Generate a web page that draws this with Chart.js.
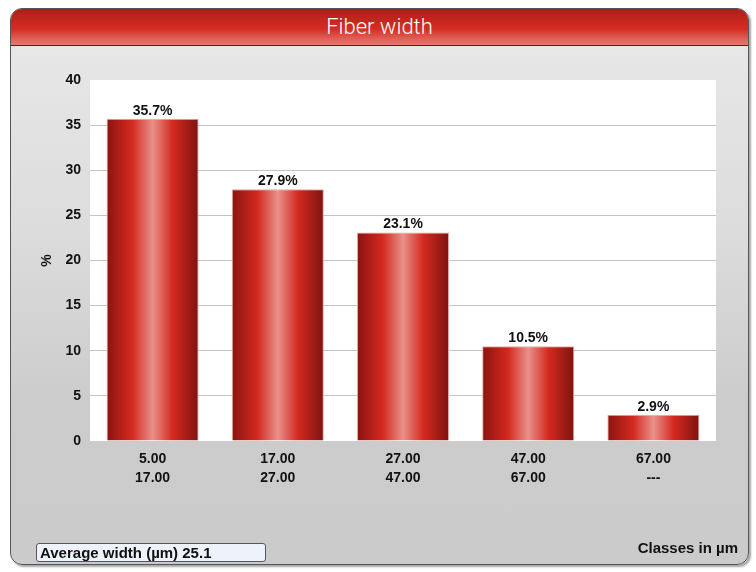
<!DOCTYPE html>
<html>
<head>
<meta charset="utf-8">
<script src="https://cdn.jsdelivr.net/npm/chart.js@4.4.1/dist/chart.umd.min.js"></script>
<style>
  html, body { margin: 0; padding: 0; background: #ffffff; }
  body { width: 756px; height: 572px; position: relative; overflow: hidden;
         font-family: 'Liberation Sans', Arial, sans-serif; }
  .panel {
    position: absolute; left: 10px; top: 8px; width: 737px; height: 555px;
    border-radius: 12px; border: 1px solid #555;
    background: linear-gradient(#e9e9e9 0%, #dcdcdc 40%, #cccccc 70%, #cbcbcb 100%);
    box-shadow: 2px 2px 2px rgba(0,0,0,0.35);
    overflow: hidden;
  }
  .header {
    position: absolute; left: 0; top: 0; right: 0; height: 36px;
    background: linear-gradient(#a8201a 0%, #c8271f 35%, #d42c22 55%, #e0645a 85%, #e27a70 100%);
    border-bottom: 1px solid #6a1a16;
    color: #fff; text-align: center; font-size: 22px; line-height: 36px;
    font-family: Roboto, 'Liberation Sans', sans-serif; font-weight: 300;
  }
  #wrap { position: absolute; left: 0; top: 0; width: 756px; height: 572px; }
  .avg {
    position: absolute; left: 36px; top: 543px; width: 230px; height: 19px;
    border: 1px solid #556; border-radius: 3px; background: #eef3fb;
    font-weight: bold; font-size: 15px; line-height: 18px; padding-left: 3px;
    box-sizing: border-box; color: #111;
  }
  .unit {
    position: absolute; right: 18px; top: 539px;
    font-weight: bold; font-size: 15px; color: #111;
  }
</style>
</head>
<body>
<div class="panel"><div class="header">Fiber width</div></div>
<div id="wrap"><canvas id="chart" width="756" height="572"></canvas></div>
<div class="avg">Average width (µm) 25.1</div>
<div class="unit">Classes in µm</div>
<script>
// class bounds (µm) and share of fibers (%)
const classFrom = ['5.00', '17.00', '27.00', '47.00', '67.00'];
const classTo   = ['17.00', '27.00', '47.00', '67.00', '---'];
const percent   = [35.7, 27.9, 23.1, 10.5, 2.9];
const yTicks    = [0, 5, 10, 15, 20, 25, 30, 35, 40];

const BAR_PCT = 0.735;
const FONT = { family: "'Liberation Sans', Arial, sans-serif", size: 14, weight: 'bold' };

// fondo blanco solo en el área de trazado
const plotBg = {
  id: 'plotBg',
  beforeDraw(chart) {
    const { ctx, chartArea: a } = chart;
    ctx.save();
    ctx.fillStyle = '#ffffff';
    ctx.fillRect(a.left, a.top, a.right - a.left, a.bottom - a.top);
    ctx.restore();
  }
};

// etiquetas de porcentaje sobre cada barra
const barLabels = {
  id: 'barLabels',
  afterDatasetsDraw(chart) {
    const { ctx } = chart;
    const meta = chart.getDatasetMeta(0);
    ctx.save();
    ctx.font = `bold ${FONT.size}px ${FONT.family}`;
    ctx.fillStyle = '#111';
    ctx.textAlign = 'center';
    ctx.textBaseline = 'bottom';
    meta.data.forEach((bar, i) => {
      ctx.fillText(percent[i].toFixed(1) + '%', bar.x, bar.y - 1);
    });
    ctx.restore();
  }
};

// degradado horizontal tipo cilindro
function barGradient(context) {
  const chart = context.chart;
  const xs = chart.scales.x;
  if (!chart.chartArea || !xs) return '#cc2a20';
  const cx = xs.getPixelForValue(context.dataIndex);
  const half = (xs.width / classFrom.length) * BAR_PCT / 2;
  if (!Number.isFinite(cx) || !Number.isFinite(half)) return '#cc2a20';
  const g = chart.ctx.createLinearGradient(cx - half, 0, cx + half, 0);
  g.addColorStop(0.00, '#8a1410');
  g.addColorStop(0.28, '#d4291f');
  g.addColorStop(0.50, '#e8918a');
  g.addColorStop(0.72, '#d4291f');
  g.addColorStop(1.00, '#7e1310');
  return g;
}

new Chart(document.getElementById('chart'), {
  type: 'bar',
  data: {
    labels: classFrom.map((f, i) => [f, classTo[i]]),
    datasets: [{
      data: percent,
      backgroundColor: barGradient,
      borderColor: '#e4a6a0',
      borderWidth: 1,
      categoryPercentage: 1,
      barPercentage: BAR_PCT,
    }]
  },
  options: {
    responsive: false,
    animation: false,
    layout: { padding: { left: 39, right: 40, top: 80, bottom: 0 } },
    plugins: {
      legend: { display: false },
      tooltip: { enabled: false },
      title: { display: false },
    },
    scales: {
      x: {
        grid: { display: false },
        border: { display: false },
        ticks: { color: '#111', font: { ...FONT, lineHeight: 1.35 }, padding: 1 },
        afterFit(s) { s.height = 131; },
      },
      y: {
        min: 0, max: 40,
        afterBuildTicks(s) { s.ticks = yTicks.map(v => ({ value: v })); },
        border: { display: false },
        grid: {
          color: c => (c.tick.value === 0 || c.tick.value === 40) ? 'rgba(0,0,0,0)' : '#c4c4c4',
          drawTicks: false,
        },
        ticks: { color: '#111', font: FONT, padding: 9 },
        title: { display: true, text: '%', color: '#111', font: FONT, padding: 0 },
        afterFit(s) { s.width = 51; },
      }
    }
  },
  plugins: [plotBg, barLabels]
});
</script>
</body>
</html>
